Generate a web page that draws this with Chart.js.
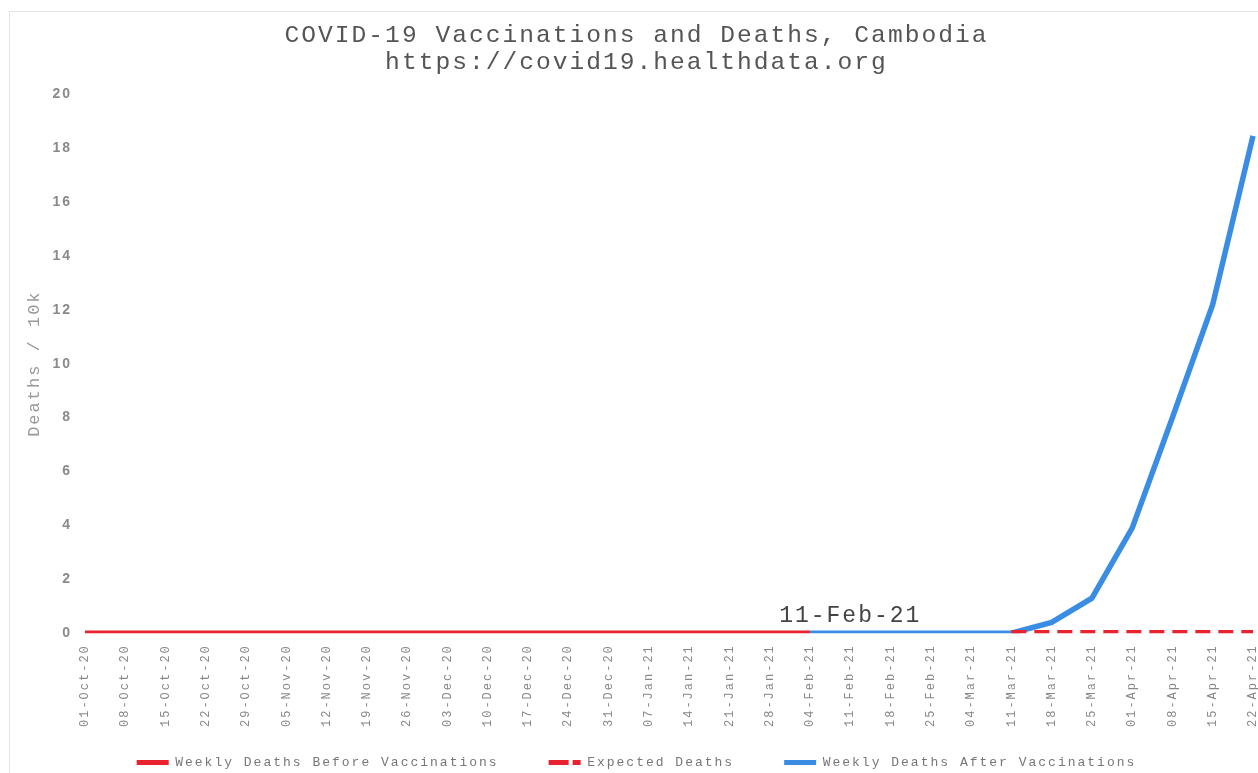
<!DOCTYPE html>
<html><head><meta charset="utf-8">
<script src="https://cdn.jsdelivr.net/npm/chart.js@4.4.1/dist/chart.umd.min.js"></script>
<style>
html,body{margin:0;padding:0;background:#fff;overflow:hidden;}
#wrap{position:absolute;left:9px;top:11px;width:1262px;height:791px;border-left:1px solid #e4e4e4;border-top:1px solid #e4e4e4;}
</style></head><body>
<div id="wrap"><canvas id="c"></canvas></div>
<script>
const weekLabels = ['01-Oct-20','08-Oct-20','15-Oct-20','22-Oct-20','29-Oct-20','05-Nov-20','12-Nov-20','19-Nov-20','26-Nov-20','03-Dec-20','10-Dec-20','17-Dec-20','24-Dec-20','31-Dec-20','07-Jan-21','14-Jan-21','21-Jan-21','28-Jan-21','04-Feb-21','11-Feb-21','18-Feb-21','25-Feb-21','04-Mar-21','11-Mar-21','18-Mar-21','25-Mar-21','01-Apr-21','08-Apr-21','15-Apr-21','22-Apr-21'];
const beforeVaccinations = [0,0,0,0,0,0,0,0,0,0,0,0,0,0,0,0,0,0,0,null,null,null,null,null,null,null,null,null,null,null];
const expectedDeaths = [null,null,null,null,null,null,null,null,null,null,null,null,null,null,null,null,null,null,null,null,null,null,null,0,0,0,0,0,0,0];
const afterVaccinations = [null,null,null,null,null,null,null,null,null,null,null,null,null,null,null,null,null,null,0,0,0,0,0,0,0.4,1.3,3.9,8.0,12.2,18.45];
const vaccinationStartLabel = '11-Feb-21';
const titleLines = ['COVID-19 Vaccinations and Deaths, Cambodia','https://covid19.healthdata.org'];
const yAxisTitle = 'Deaths / 10k';
const seriesNames = ['Weekly Deaths Before Vaccinations','Expected Deaths','Weekly Deaths After Vaccinations'];

const MONO = '"Liberation Mono", "Courier New", monospace';
const SANS = '"Liberation Sans", Arial, sans-serif';
const RED = '#e8232f';
const BLUE = '#3b8de4';
const CLIP = {left: false, top: false, right: false, bottom: 0};

const spacingPlugin = {
  id: 'spacing',
  beforeUpdate(chart){ chart.ctx.letterSpacing = '2px'; },
  beforeLayout(chart){ chart.ctx.letterSpacing = '2px'; },
  afterLayout(chart){
    const lg = chart.legend;
    if (lg) { lg.top -= 24; lg.bottom -= 24; }
  },
  beforeDraw(chart){ chart.ctx.letterSpacing = '2px'; }
};
const markerPlugin = {
  id: 'marker',
  afterDatasetsDraw(chart){
    const {ctx, scales:{x, y}} = chart;
    const idx = weekLabels.indexOf(vaccinationStartLabel);
    const px = x.getPixelForValue(idx);
    const py = y.getPixelForValue(0);
    ctx.save();
    ctx.letterSpacing = '2px';
    ctx.font = '23px ' + MONO;
    ctx.fillStyle = '#444';
    ctx.textAlign = 'center';
    ctx.textBaseline = 'alphabetic';
    ctx.fillText(vaccinationStartLabel, px, py - 11);
    ctx.restore();
  }
};

new Chart(document.getElementById('c'), {
  type: 'line',
  data: {
    labels: weekLabels,
    datasets: [
      {label: seriesNames[0], data: beforeVaccinations, borderColor: RED, backgroundColor: RED, borderWidth: 5.5, pointRadius: 0, tension: 0, clip: CLIP},
      {label: seriesNames[1], data: expectedDeaths, borderColor: RED, backgroundColor: RED, borderWidth: 6.5, borderDash: [15, 8], pointRadius: 0, tension: 0, clip: CLIP},
      {label: seriesNames[2], data: afterVaccinations, borderColor: BLUE, backgroundColor: BLUE, borderWidth: 5.5, pointRadius: 0, tension: 0, clip: CLIP}
    ]
  },
  options: {
    responsive: true,
    maintainAspectRatio: false,
    animation: false,
    layout: {padding: {left: 10, right: 19, top: 0, bottom: 0}},
    plugins: {
      title: {display: true, text: titleLines, color: '#555', font: {family: MONO, size: 24.6, weight: 'normal', lineHeight: 1.1}, padding: {top: 10, bottom: 18}},
      legend: {
        position: 'bottom',
        labels: {
          usePointStyle: true, pointStyle: 'line', pointStyleWidth: 32, boxHeight: 13, padding: 50, color: '#777',
          font: {family: MONO, size: 13},
          generateLabels(chart){
            const items = Chart.defaults.plugins.legend.labels.generateLabels(chart);
            items.forEach(it => {
              const ds = chart.data.datasets[it.datasetIndex];
              it.lineWidth = 5;
              it.lineDash = ds.borderDash ? [20, 4] : [];
              it.strokeStyle = ds.borderColor;
            });
            return items;
          }
        }
      },
      tooltip: {enabled: false}
    },
    scales: {
      x: {
        grid: {display: false}, border: {display: false},
        ticks: {autoSkip: false, maxRotation: 90, minRotation: 90, color: '#888', padding: 3, font: {family: MONO, size: 12}}
      },
      y: {
        min: 0, max: 20,
        grid: {display: false}, border: {display: false},
        ticks: {stepSize: 2, color: '#8a8a8a', padding: 5, font: {family: SANS, size: 14, weight: 'bold'}},
        title: {display: true, text: yAxisTitle, color: '#999', font: {family: MONO, size: 17}},
        afterFit(s){ s.width = 65; }
      }
    }
  },
  plugins: [spacingPlugin, markerPlugin]
});
</script>
</body></html>
